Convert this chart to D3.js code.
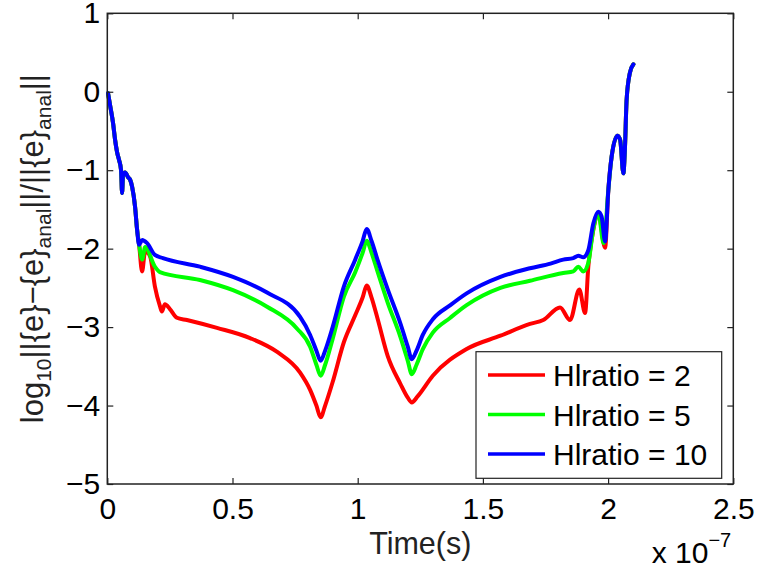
<!DOCTYPE html>
<html>
<head>
<meta charset="utf-8">
<script src="https://cdn.jsdelivr.net/npm/d3@7"></script>
<style>
  body { margin: 0; background: #fff; }
  svg { display: block; font-family: "Liberation Sans", Arial, sans-serif; }
</style>
</head>
<body>
<div id="chart"></div>
<script>
const width = 758, height = 573;
const margin = {left: 107.3, right: 24.7, top: 13.3, bottom: 89};

// time in units of 1e-7 s, value = log10 relative error
const earlyShared = [
  [0.003, -0.02], [0.011, -0.17], [0.023, -0.40], [0.031, -0.61], [0.039, -0.77],
  [0.047, -0.87], [0.055, -1.00], [0.059, -1.29], [0.063, -1.06], [0.071, -1.03],
  [0.083, -1.09], [0.091, -1.12], [0.099, -1.21], [0.111, -1.47], [0.119, -1.76],
  [0.127, -1.95]
];
const lateShared = [
  [2.001, -1.25], [2.014, -0.83], [2.037, -0.56], [2.048, -0.61], [2.061, -1.04],
  [2.067, -0.74], [2.074, -0.10], [2.087, 0.24], [2.101, 0.35]
];
const hl2 = [
  [0.139, -2.29], [0.151, -2.03], [0.171, -2.10], [0.190, -2.48], [0.210, -2.73],
  [0.218, -2.80], [0.230, -2.71], [0.250, -2.77], [0.278, -2.88], [0.318, -2.91],
  [0.438, -3.01], [0.570, -3.14], [0.680, -3.32], [0.770, -3.58], [0.810, -3.80],
  [0.835, -4.00], [0.852, -4.15], [0.870, -4.00], [0.900, -3.70], [0.945, -3.19],
  [0.990, -2.85], [1.020, -2.62], [1.036, -2.47], [1.055, -2.62], [1.080, -2.90],
  [1.120, -3.37], [1.170, -3.72], [1.200, -3.90], [1.216, -3.96], [1.240, -3.88],
  [1.300, -3.62], [1.435, -3.28], [1.570, -3.11], [1.688, -2.96], [1.741, -2.91],
  [1.808, -2.75], [1.848, -2.91], [1.885, -2.52], [1.908, -2.82], [1.921, -2.23],
  [1.941, -1.76], [1.961, -1.55], [1.988, -1.99]
];
const hl5 = [
  [0.139, -2.14], [0.151, -1.98], [0.190, -2.23], [0.210, -2.30], [0.370, -2.40],
  [0.502, -2.53], [0.638, -2.74], [0.758, -3.02], [0.810, -3.25], [0.835, -3.48],
  [0.852, -3.62], [0.870, -3.48], [0.900, -3.15], [0.945, -2.61], [0.990, -2.30],
  [1.020, -2.05], [1.036, -1.90], [1.055, -2.05], [1.080, -2.30], [1.120, -2.69],
  [1.170, -3.12], [1.200, -3.43], [1.216, -3.60], [1.235, -3.48], [1.260, -3.28],
  [1.300, -3.07], [1.370, -2.88], [1.435, -2.72], [1.570, -2.50], [1.688, -2.41],
  [1.821, -2.31], [1.861, -2.29], [1.881, -2.23], [1.901, -2.29], [1.921, -2.18],
  [1.941, -1.75], [1.961, -1.55], [1.982, -1.93]
];
const hl10 = [
  [0.139, -1.89], [0.159, -1.93], [0.190, -2.08], [0.222, -2.12], [0.370, -2.23],
  [0.502, -2.36], [0.638, -2.56], [0.770, -2.87], [0.810, -3.10], [0.835, -3.30],
  [0.852, -3.43], [0.870, -3.30], [0.900, -3.00], [0.945, -2.48], [0.990, -2.14],
  [1.020, -1.90], [1.036, -1.75], [1.055, -1.90], [1.080, -2.15], [1.120, -2.52],
  [1.170, -2.95], [1.200, -3.25], [1.216, -3.41], [1.235, -3.30], [1.260, -3.10],
  [1.300, -2.90], [1.370, -2.72], [1.435, -2.57], [1.570, -2.36], [1.688, -2.25],
  [1.770, -2.19], [1.821, -2.14], [1.861, -2.12], [1.881, -2.09], [1.901, -2.11],
  [1.921, -2.02], [1.941, -1.68], [1.961, -1.53], [1.974, -1.59], [1.988, -1.91]
];

const seriesNames = ["Hlratio = 2", "Hlratio = 5", "Hlratio = 10"];
const seriesColors = ["#ff0000", "#00ff00", "#0000ff"];
const seriesData = [hl2, hl5, hl10].map(s => earlyShared.concat(s, lateShared));

const xTicks = [0, 0.5, 1, 1.5, 2, 2.5];
const yTicks = [1, 0, -1, -2, -3, -4, -5];

const svg = d3.select("#chart").append("svg")
  .attr("width", width)
  .attr("height", height);

const x = d3.scaleLinear().domain([0, 2.5]).range([margin.left, width - margin.right]);
const y = d3.scaleLinear().domain([-5, 1]).range([height - margin.bottom, margin.top]);

// lines
const line = d3.line()
  .x(d => x(d[0]))
  .y(d => y(d[1]))
  .curve(d3.curveMonotoneX);

svg.append("g")
  .selectAll("path").data(seriesData)
  .join("path")
  .attr("d", line)
  .attr("fill", "none")
  .attr("stroke", (d, i) => seriesColors[i])
  .attr("stroke-width", 4)
  .attr("stroke-linejoin", "round")
  .attr("stroke-linecap", "round");

// axes, ticks pointing inward
const fmt = d3.format("~g");
svg.append("g")
  .attr("transform", `translate(0,${y(-5)})`)
  .call(d3.axisBottom(x).tickValues(xTicks).tickFormat(fmt).tickSizeInner(-6).tickSizeOuter(0).tickPadding(14));
svg.append("g")
  .attr("transform", `translate(0,${y(1)})`)
  .call(d3.axisTop(x).tickValues(xTicks).tickSizeInner(-6).tickSizeOuter(0).tickFormat(""));
svg.append("g")
  .attr("transform", `translate(${x(0)},0)`)
  .call(d3.axisLeft(y).tickValues(yTicks).tickFormat(fmt).tickSizeInner(-6).tickSizeOuter(0).tickPadding(7));
svg.append("g")
  .attr("transform", `translate(${x(2.5)},0)`)
  .call(d3.axisRight(y).tickValues(yTicks).tickSizeInner(-6).tickSizeOuter(0).tickFormat(""));

svg.selectAll(".domain").remove();
svg.selectAll(".tick line").attr("stroke", "#222").attr("stroke-width", 1.2);
svg.selectAll(".tick text")
  .attr("fill", "#000")
  .style("font-size", "30px")
  .style("font-family", "'Liberation Sans', Arial, sans-serif");

svg.append("rect")
  .attr("x", x(0)).attr("y", y(1))
  .attr("width", x(2.5) - x(0)).attr("height", y(-5) - y(1))
  .attr("fill", "none")
  .attr("stroke", "#222")
  .attr("stroke-width", 1.5);

// x label
svg.append("text")
  .attr("x", (x(0) + x(2.5)) / 2)
  .attr("y", 554)
  .attr("text-anchor", "middle")
  .style("font-size", "30.5px")
  .attr("fill", "#222")
  .text("Time(s)");

// exponent
const expo = svg.append("text")
  .attr("x", 651.7)
  .attr("y", 562.7)
  .style("font-size", "30px")
  .attr("fill", "#000");
expo.append("tspan").text("x 10");
expo.append("tspan").attr("dy", -16).style("font-size", "20px").text("\u22127");

// y label, centred on the plot
const yl = svg.append("text")
  .attr("transform", `translate(42.5,${(y(1) + y(-5)) / 2}) rotate(-90)`)
  .attr("text-anchor", "middle")
  .style("font-size", "31px")
  .attr("fill", "#222");
yl.append("tspan").text("log");
yl.append("tspan").attr("dy", 8).style("font-size", "21px").text("10");
yl.append("tspan").attr("dy", -8).text("||{e}\u2212{e}");
yl.append("tspan").attr("dy", 8).style("font-size", "21px").text("anal");
yl.append("tspan").attr("dy", -8).text("||/||{e}");
yl.append("tspan").attr("dy", 8).style("font-size", "21px").text("anal");
yl.append("tspan").attr("dy", -8).text("||");

// legend
const legend = svg.append("g");
legend.append("rect")
  .attr("x", 476).attr("y", 351.7)
  .attr("width", 245.7).attr("height", 126.6)
  .attr("fill", "#fff")
  .attr("stroke", "#222")
  .attr("stroke-width", 1.2);

const rows = legend.selectAll("g.row").data(seriesNames)
  .join("g")
  .attr("class", "row")
  .attr("transform", (d, i) => `translate(0,${375 + i * 39.5})`);
rows.append("line")
  .attr("x1", 488).attr("x2", 545)
  .attr("y1", 0).attr("y2", 0)
  .attr("stroke", (d, i) => seriesColors[i])
  .attr("stroke-width", 3.5);
rows.append("text")
  .attr("x", 553)
  .attr("y", 11)
  .style("font-size", "30px")
  .attr("fill", "#000")
  .text(d => d);
</script>
</body>
</html>
